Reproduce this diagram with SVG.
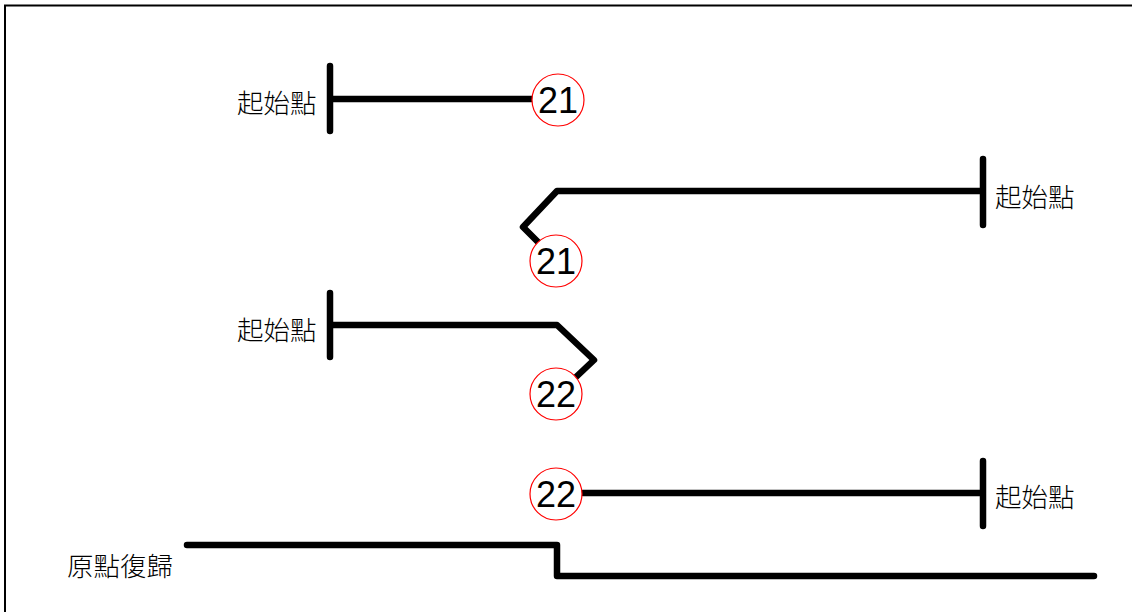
<svg xmlns="http://www.w3.org/2000/svg" width="1132" height="612" viewBox="0 0 1132 612">
<style>
.ln{fill:none;stroke:#000;stroke-width:6.5;stroke-linecap:round;stroke-linejoin:round}
.lbl{font-family:"Noto Sans CJK TC","Noto Sans CJK SC",sans-serif;font-size:26.5px;font-weight:300;fill:#000}
.num{font-family:"Liberation Sans",Arial,sans-serif;font-size:36px;fill:#000;text-anchor:middle}
.cir{fill:#fff;stroke:#ff0000;stroke-width:1.2}
</style>
<rect x="0" y="0" width="1132" height="612" fill="#fff"/>
<path d="M5,612 V5.5 H1132" fill="none" stroke="#000" stroke-width="2"/>
<g id="connectors">
<path class="ln" d="M330,66 V131 M330,99 H532"/>
<path class="ln" d="M983,159 V225 M983,191 H557 L523,227 L538,242"/>
<path class="ln" d="M330,293 V357 M330,325 H557 L594,360 L576,377"/>
<path class="ln" d="M983,461 V526 M983,493 H583"/>
<path class="ln" d="M187,545 H557 V576 H1094"/>
</g>
<g id="n21a"><circle class="cir" cx="558" cy="100" r="26"/><text class="num" x="558" y="113">21</text></g>
<g id="n21b"><circle class="cir" cx="556" cy="261" r="26"/><text class="num" x="556" y="274">21</text></g>
<g id="n22a"><circle class="cir" cx="556" cy="394" r="26"/><text class="num" x="556" y="407">22</text></g>
<g id="n22b"><circle class="cir" cx="556" cy="494" r="26"/><text class="num" x="556" y="507">22</text></g>
<g id="l1"><text class="lbl" x="237" y="113">起始點</text></g>
<g id="l2"><text class="lbl" x="995" y="207">起始點</text></g>
<g id="l3"><text class="lbl" x="237" y="340">起始點</text></g>
<g id="l4"><text class="lbl" x="995" y="507">起始點</text></g>
<g id="l5"><text class="lbl" x="67" y="576">原點復歸</text></g>
</svg>
